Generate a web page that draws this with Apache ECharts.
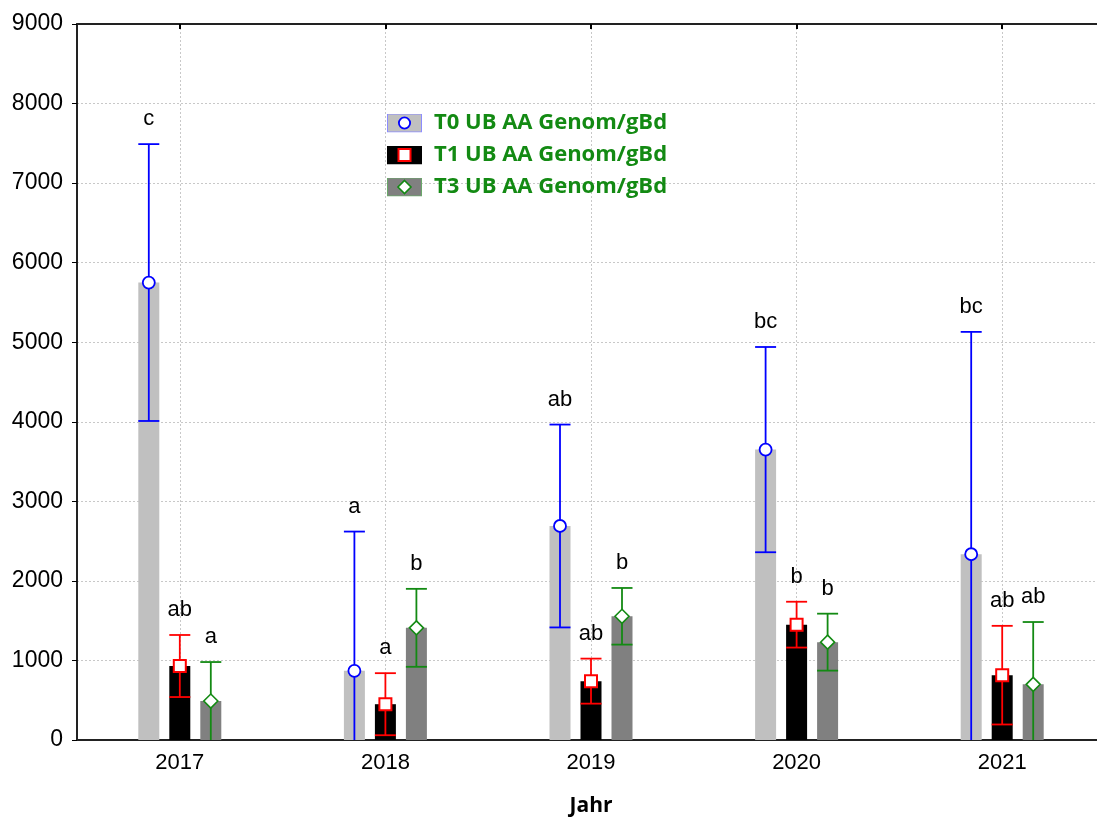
<!DOCTYPE html>
<html>
<head>
<meta charset="utf-8">
<title>UB AA Genom/gBd</title>
<script src="https://cdn.jsdelivr.net/npm/echarts@6/dist/echarts.min.js"></script>
<style>
  html, body { margin: 0; padding: 0; background: #ffffff; }
  #chart { width: 1097px; height: 817px; }
</style>
</head>
<body>
<div id="chart"></div>
<script>
// Sampling years
const years = ['2017', '2018', '2019', '2020', '2021'];

// Means (bar heights / marker centres) and half-widths of the error bars
const t0Mean = [5750, 870, 2690, 3650, 2335];
const t0Err  = [1740, 1750, 1275, 1290, 2795];
const t1Mean = [930, 450, 740, 1450, 815];
const t1Err  = [390, 390, 283, 288, 620];
const t3Mean = [490, 1410, 1555, 1230, 700];
const t3Err  = [490, 490, 356, 358, 783];

// Significance letters shown above each error bar
const t0Letters = ['c', 'a', 'ab', 'bc', 'bc'];
const t1Letters = ['ab', 'a', 'ab', 'b', 'ab'];
const t3Letters = ['a', 'b', 'b', 'b', 'ab'];

const seriesNames = ['T0 UB AA Genom/gBd', 'T1 UB AA Genom/gBd', 'T3 UB AA Genom/gBd'];
const yTicks = { min: 0, max: 9000, interval: 1000 };

const BAR_W = 21;
const BAR_GAP = 10;
const BAR_STEP = BAR_W + BAR_GAP;
const LABEL_FONT = '"Liberation Sans", Arial, sans-serif';
const LEGEND_GREEN = '#138a13';

function svgIcon(body) {
  const svg = "<svg xmlns='http://www.w3.org/2000/svg' width='41' height='19' viewBox='0 0 41 19'>" + body + "</svg>";
  return 'image://data:image/svg+xml;charset=utf-8,' + encodeURIComponent(svg);
}

const legendIcons = [
  svgIcon("<rect x='0.5' y='0.5' width='34' height='18' fill='#c0c0c0' stroke='#8c8cff' stroke-width='1'/>" +
          "<circle cx='17.5' cy='9.5' r='5.6' fill='#ffffff' stroke='#0000ff' stroke-width='1.8'/>"),
  svgIcon("<rect x='0' y='0' width='35' height='19' fill='#000000'/>" +
          "<rect x='11.5' y='3.5' width='12' height='12' fill='#ffffff' stroke='#ff0000' stroke-width='2'/>"),
  svgIcon("<rect x='0.5' y='0.5' width='34' height='18' fill='#808080' stroke='#6aa86a' stroke-width='1'/>" +
          "<polygon points='17.5,3 24,9.5 17.5,16 11,9.5' fill='#ffffff' stroke='#138a13' stroke-width='1.6'/>")
];

function markerShape(kind, x, y, color) {
  if (kind === 'circle') {
    return { type: 'circle', shape: { cx: x, cy: y, r: 6 },
             style: { fill: '#ffffff', stroke: color, lineWidth: 1.8 } };
  }
  if (kind === 'square') {
    return { type: 'rect', shape: { x: x - 6, y: y - 6, width: 12, height: 12 },
             style: { fill: '#ffffff', stroke: color, lineWidth: 2 } };
  }
  return { type: 'polygon', shape: { points: [[x, y - 7], [x + 7, y], [x, y + 7], [x - 7, y]] },
           style: { fill: '#ffffff', stroke: color, lineWidth: 1.6 } };
}

// Error bar, marker and letter for one treatment, offset to sit on its bar
function errorSeries(k, means, errs, letters, color, kind) {
  return {
    type: 'custom',
    name: seriesNames[k] + ' CI',
    silent: true,
    z: 10,
    clip: false,
    encode: { x: 0, y: 1 },
    data: means.map((m, i) => [i, m, errs[i]]),
    renderItem: function (params, api) {
      const i = api.value(0);
      const m = api.value(1);
      const e = api.value(2);
      const hi = m + e;
      const loRaw = m - e;
      const lo = Math.max(0, loRaw);
      const c = api.coord([i, m]);
      const x = c[0] + (k - 1) * BAR_STEP;
      const yHi = api.coord([i, hi])[1];
      const yLo = api.coord([i, lo])[1];
      const half = BAR_W / 2;
      const ls = { stroke: color, lineWidth: 1.8 };
      const children = [
        { type: 'line', shape: { x1: x, y1: yHi, x2: x, y2: yLo }, style: ls },
        { type: 'line', shape: { x1: x - half, y1: yHi, x2: x + half, y2: yHi }, style: ls }
      ];
      if (loRaw > 0) {
        children.push({ type: 'line', shape: { x1: x - half, y1: yLo, x2: x + half, y2: yLo }, style: ls });
      }
      children.push(markerShape(kind, x, c[1], color));
      children.push({
        type: 'text',
        style: {
          x: x, y: yHi - 25, text: letters[i],
          align: 'center', verticalAlign: 'middle',
          fill: '#000000', font: '22px ' + LABEL_FONT
        }
      });
      return { type: 'group', children: children };
    }
  };
}

const chart = echarts.init(document.getElementById('chart'), null, { renderer: 'canvas' });

chart.setOption({
  animation: false,
  backgroundColor: '#ffffff',
  grid: { left: 77, top: 24, width: 1028, bottom: 77, containLabel: false, outerBoundsMode: 'none' },
  legend: {
    orient: 'vertical',
    left: 382,
    top: 107,
    padding: 5,
    itemWidth: 41,
    itemHeight: 19,
    itemGap: 10,
    selectedMode: false,
    data: seriesNames.map((n, i) => ({ name: n, icon: legendIcons[i] })),
    textStyle: {
      color: LEGEND_GREEN,
      fontFamily: '"Open Sans", sans-serif',
      fontWeight: 'bold',
      fontSize: 22,
      padding: [0, 0, 0, 1]
    }
  },
  xAxis: [
    {
      type: 'category',
      data: years,
      position: 'bottom',
      boundaryGap: true,
      axisLine: { show: true, lineStyle: { color: '#222222', width: 2 } },
      axisTick: { show: false },
      axisLabel: { margin: 12, color: '#000000', fontSize: 22, fontFamily: LABEL_FONT },
      splitLine: { show: true, alignWithLabel: true, lineStyle: { color: '#c8c8c8', type: [2, 2], width: 1 } },
      name: 'Jahr',
      nameLocation: 'middle',
      nameGap: 56,
      nameTextStyle: { color: '#000000', fontSize: 21, fontWeight: 'bold', fontFamily: '"Open Sans", sans-serif' }
    },
    {
      type: 'category',
      data: years,
      position: 'top',
      boundaryGap: true,
      axisLine: { show: true, lineStyle: { color: '#222222', width: 2 } },
      axisTick: { show: true, inside: true, alignWithLabel: true, length: 5, lineStyle: { color: '#000000', width: 2 } },
      axisLabel: { show: false },
      splitLine: { show: false }
    }
  ],
  yAxis: {
    type: 'value',
    min: yTicks.min,
    max: yTicks.max,
    interval: yTicks.interval,
    axisLine: { show: true, lineStyle: { color: '#222222', width: 2 } },
    axisTick: { show: true, inside: false, length: 5, lineStyle: { color: '#000000', width: 1 } },
    axisLabel: { margin: 14, color: '#000000', fontSize: 23, fontFamily: LABEL_FONT,
                 formatter: function (v) { return String(v); } },
    splitLine: { show: true, lineStyle: { color: '#c8c8c8', type: [2, 2], width: 1 } }
  },
  series: [
    { type: 'bar', name: seriesNames[0], data: t0Mean, barWidth: BAR_W, barGap: (BAR_GAP / BAR_W * 100) + '%',
      itemStyle: { color: '#c0c0c0' }, silent: true, z: 2 },
    { type: 'bar', name: seriesNames[1], data: t1Mean, barWidth: BAR_W,
      itemStyle: { color: '#000000' }, silent: true, z: 2 },
    { type: 'bar', name: seriesNames[2], data: t3Mean, barWidth: BAR_W,
      itemStyle: { color: '#808080' }, silent: true, z: 2 },
    errorSeries(0, t0Mean, t0Err, t0Letters, '#0000ff', 'circle'),
    errorSeries(1, t1Mean, t1Err, t1Letters, '#ff0000', 'square'),
    errorSeries(2, t3Mean, t3Err, t3Letters, '#138a13', 'diamond')
  ]
});
</script>
</body>
</html>
